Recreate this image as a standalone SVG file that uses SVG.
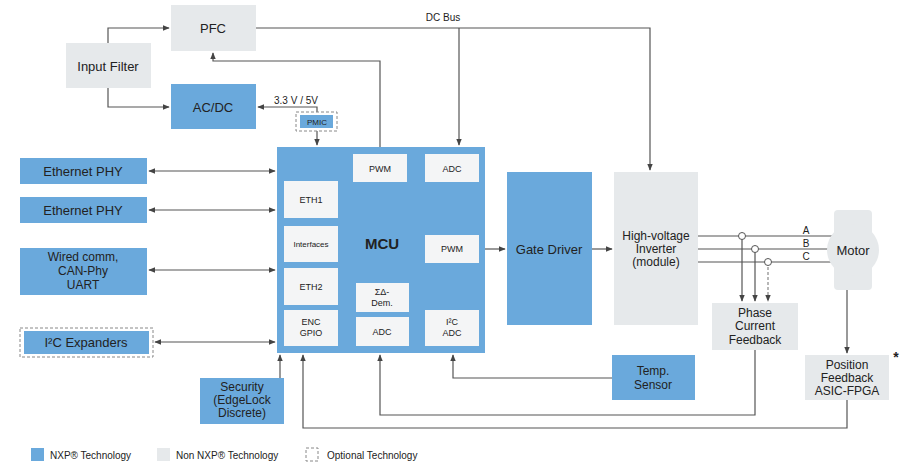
<svg xmlns="http://www.w3.org/2000/svg" width="910" height="470" viewBox="0 0 910 470">
<defs>
<marker id="ar" viewBox="0 0 10 10" refX="9" refY="5" markerWidth="6" markerHeight="6" orient="auto-start-reverse"><path d="M0,1 L10,5 L0,9z" fill="#444"/></marker>
<style>
text{font-family:"Liberation Sans",Arial,sans-serif;fill:#222;text-anchor:middle}
.b{fill:#6aa9dc}.g{fill:#e6e9eb}.w{fill:#f4f5f6}
.l{fill:none;stroke:#555;stroke-width:1.2}
.d{fill:none;stroke:#888;stroke-width:1.2;stroke-dasharray:3 2}
.t{font-size:13px}.m{font-size:12px}.s{font-size:9px}
</style>
</defs>
<rect width="910" height="470" fill="#fff"/>
<g id="connectors">
<path class="l" d="M108,43 V28 H169" marker-end="url(#ar)"/>
<path class="l" d="M108,88 V107 H169" marker-end="url(#ar)"/>
<path class="l" d="M256,28 H650 V170" marker-end="url(#ar)"/>
<path class="l" d="M459,28 V145" marker-end="url(#ar)"/>
<path class="l" d="M380,147 V61 H213 V53" marker-end="url(#ar)"/>
<path class="l" d="M317,112 V107 H258" marker-end="url(#ar)"/>
<path class="l" d="M317,131 V145" marker-end="url(#ar)"/>
<path class="l" d="M149,171 H275" marker-start="url(#ar)" marker-end="url(#ar)"/>
<path class="l" d="M149,210 H275" marker-start="url(#ar)" marker-end="url(#ar)"/>
<path class="l" d="M149,270 H275" marker-start="url(#ar)" marker-end="url(#ar)"/>
<path class="l" d="M155,342 H275" marker-start="url(#ar)" marker-end="url(#ar)"/>
<path class="l" d="M485,249 H505" marker-end="url(#ar)"/>
<path class="l" d="M592,249 H612" marker-end="url(#ar)"/>
<path class="l" d="M698,236 H832 M698,249 H832 M698,262 H832"/>
<path class="l" d="M742,236 V301" marker-end="url(#ar)"/>
<path class="l" d="M755,249 V301" marker-end="url(#ar)"/>
<path class="d" d="M768,262 V301" marker-end="url(#ar)"/>
<circle cx="742" cy="236" r="3.5" fill="#fff" stroke="#555"/>
<circle cx="755" cy="249" r="3.5" fill="#fff" stroke="#555"/>
<circle cx="768" cy="262" r="3.5" fill="#fff" stroke="#555"/>
<path class="l" d="M847,290 V353" marker-end="url(#ar)"/>
<path class="l" d="M612,378 H453 V355" marker-end="url(#ar)"/>
<path class="l" d="M755,350 V415 H380 V355" marker-end="url(#ar)"/>
<path class="l" d="M847,400 V428 H303 V355" marker-end="url(#ar)"/>
<path class="l" d="M280,378 V355" marker-end="url(#ar)"/>
<text x="443" y="21" style="font-size:10px">DC Bus</text>
<text x="296" y="104" style="font-size:10px">3.3 V / 5V</text>
<text x="806" y="234" style="font-size:10px">A</text>
<text x="806" y="247" style="font-size:10px">B</text>
<text x="806" y="260" style="font-size:10px">C</text>
</g>
<g id="input-filter"><rect class="g" x="66" y="43" width="85" height="45"/><text x="108" y="71" class="t">Input Filter</text></g>
<g id="pfc"><rect class="g" x="171" y="5" width="85" height="46"/><text x="213" y="33" class="t">PFC</text></g>
<g id="acdc"><rect class="b" x="171" y="84" width="85" height="45"/><text x="213" y="112" class="t">AC/DC</text></g>
<g id="pmic"><rect x="296" y="112" width="41" height="19" fill="#fff" stroke="#888" stroke-dasharray="3 2"/><rect class="b" x="300" y="115" width="33" height="13"/><text x="317" y="125" style="font-size:8px">PMIC</text></g>
<g id="eth-phy-1"><rect class="b" x="20" y="158" width="127" height="26"/><text x="83" y="176" class="t">Ethernet PHY</text></g>
<g id="eth-phy-2"><rect class="b" x="20" y="197" width="127" height="26"/><text x="83" y="215" class="t">Ethernet PHY</text></g>
<g id="wired"><rect class="b" x="20" y="248" width="127" height="47"/><text x="83" y="261" class="m">Wired comm,</text><text x="83" y="275" class="m">CAN-Phy</text><text x="83" y="289" class="m">UART</text></g>
<g id="i2c"><rect x="20" y="328" width="133" height="29" fill="#fff" stroke="#888" stroke-dasharray="3 2"/><rect class="b" x="24" y="331" width="125" height="23"/><text x="86" y="347" class="t">I²C Expanders</text></g>
<g id="mcu">
<rect class="b" x="277" y="147" width="208" height="206"/>
<text x="382" y="249" style="font-size:15px;font-weight:bold">MCU</text>
<rect class="w" x="353" y="154" width="54" height="28"/><text x="380" y="172" class="s">PWM</text>
<rect class="w" x="425" y="154" width="54" height="28"/><text x="452" y="172" class="s">ADC</text>
<rect class="w" x="284" y="181" width="54" height="37"/><text x="311" y="203" class="s">ETH1</text>
<rect class="w" x="284" y="226" width="54" height="36"/><text x="311" y="247" style="font-size:8px">Interfaces</text>
<rect class="w" x="284" y="268" width="54" height="37"/><text x="311" y="290" class="s">ETH2</text>
<rect class="w" x="284" y="310" width="54" height="36"/><text x="311" y="325" class="s">ENC</text><text x="311" y="336" class="s">GPIO</text>
<rect class="w" x="356" y="283" width="53" height="29"/><text x="382" y="295" class="s">ΣΔ-</text><text x="382" y="306" class="s">Dem.</text>
<rect class="w" x="356" y="317" width="53" height="29"/><text x="382" y="335" class="s">ADC</text>
<rect class="w" x="425" y="235" width="54" height="28"/><text x="452" y="252" class="s">PWM</text>
<rect class="w" x="425" y="310" width="54" height="36"/><text x="452" y="325" class="s">I²C</text><text x="452" y="336" class="s">ADC</text>
</g>
<g id="gate-driver"><rect class="b" x="507" y="172" width="85" height="153"/><text x="549" y="254" class="t">Gate Driver</text></g>
<g id="inverter"><rect class="g" x="614" y="172" width="84" height="153"/><text x="656" y="240" class="m">High-voltage</text><text x="656" y="253" class="m">Inverter</text><text x="656" y="266" class="m">(module)</text></g>
<g id="motor"><rect class="g" x="834" y="210" width="38" height="80" rx="4"/><circle class="g" cx="853" cy="250" r="26"/><text x="853" y="255" class="t">Motor</text></g>
<g id="phase-current"><rect class="g" x="712" y="303" width="86" height="47"/><text x="755" y="317" class="m">Phase</text><text x="755" y="330" class="m">Current</text><text x="755" y="344" class="m">Feedback</text></g>
<g id="temp"><rect class="b" x="612" y="355" width="83" height="45"/><text x="653" y="375" class="m">Temp.</text><text x="653" y="389" class="m">Sensor</text></g>
<g id="position"><rect class="g" x="805" y="355" width="84" height="45"/><text x="847" y="369" class="m">Position</text><text x="847" y="382" class="m">Feedback</text><text x="847" y="395" class="m">ASIC-FPGA</text></g>
<text x="896" y="362" style="font-size:14px;font-weight:bold">*</text>
<g id="security"><rect class="b" x="200" y="378" width="84" height="46"/><text x="242" y="391" class="m">Security</text><text x="242" y="404" class="m">(EdgeLock</text><text x="242" y="417" class="m">Discrete)</text></g>
<g id="legend">
<rect class="b" x="31" y="448" width="13" height="13"/><text x="50" y="459" style="font-size:10px;text-anchor:start">NXP® Technology</text>
<rect class="g" x="157" y="448" width="13" height="13"/><text x="176" y="459" style="font-size:10px;text-anchor:start">Non NXP® Technology</text>
<rect x="306" y="448" width="12" height="13" fill="none" stroke="#888" stroke-dasharray="3 2"/><text x="327" y="459" style="font-size:10px;text-anchor:start">Optional Technology</text>
</g>
</svg>
